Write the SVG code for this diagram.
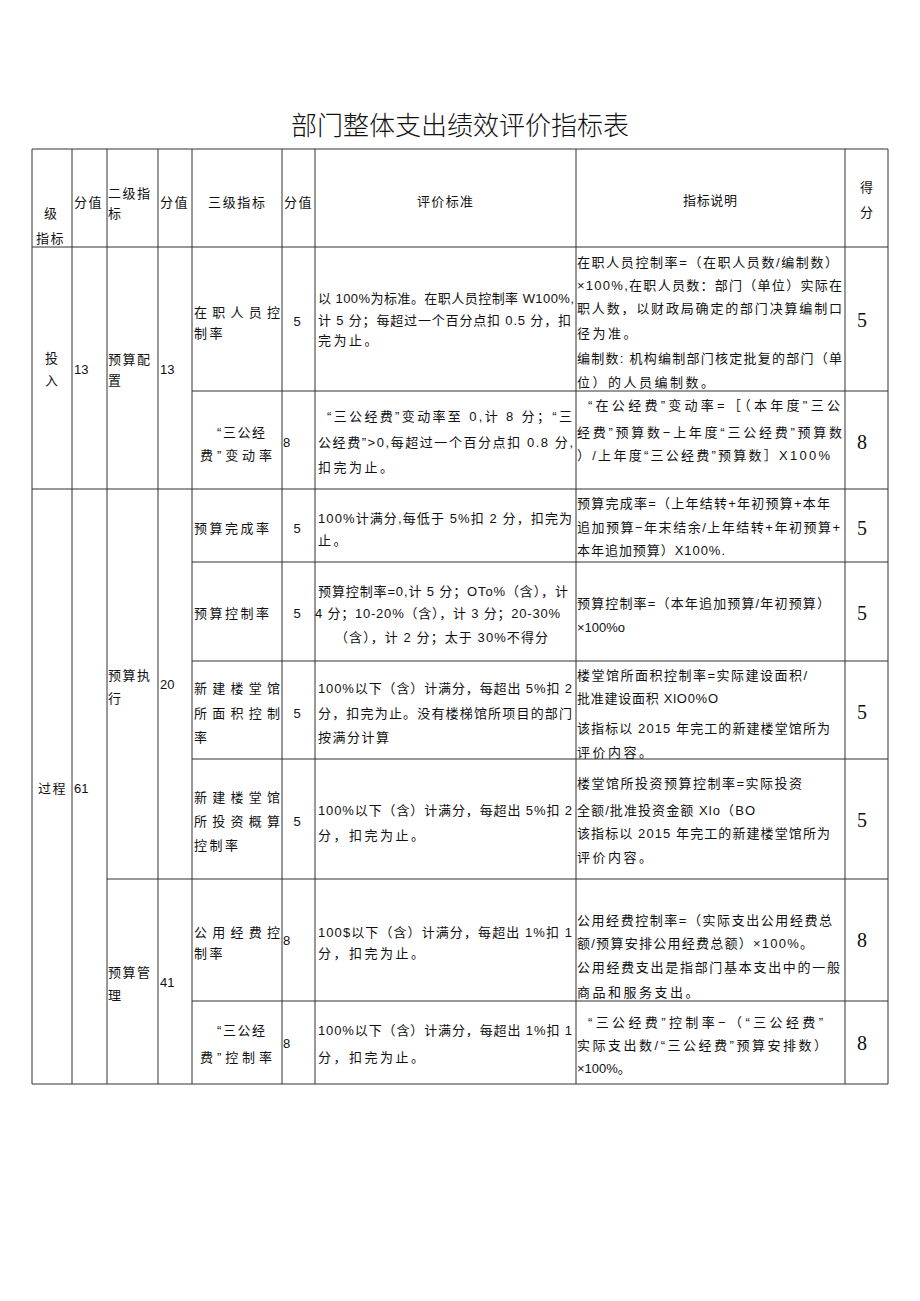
<svg xmlns="http://www.w3.org/2000/svg" width="920" height="1301" viewBox="0 0 920 1301">
<style>
text{font-family:"Liberation Sans","Noto Sans CJK SC",sans-serif;font-size:13px;fill:#111;}
.s{letter-spacing:2.5px;}
.h{letter-spacing:1.5px;}
.sc{font-family:"Liberation Serif","Noto Sans CJK SC",serif;font-size:20px;text-anchor:middle;}
.m{text-anchor:middle;}
.title{font-family:"Noto Sans CJK SC",sans-serif;font-size:26px;font-weight:300;text-anchor:middle;}
.g line{stroke:#333;stroke-width:1;}
</style>
<rect width="920" height="1301" fill="#fff"/>
<text class="title" x="460" y="135">部门整体支出绩效评价指标表</text>
<g id="grid" class="g">
<line x1="32" y1="149" x2="888" y2="149"/>
<line x1="32" y1="247" x2="888" y2="247"/>
<line x1="192" y1="391" x2="888" y2="391"/>
<line x1="32" y1="489" x2="888" y2="489"/>
<line x1="192" y1="562" x2="888" y2="562"/>
<line x1="192" y1="661" x2="888" y2="661"/>
<line x1="192" y1="759" x2="888" y2="759"/>
<line x1="107" y1="879" x2="888" y2="879"/>
<line x1="192" y1="1001" x2="888" y2="1001"/>
<line x1="32" y1="1084" x2="888" y2="1084"/>
<line x1="32" y1="149" x2="32" y2="1084"/>
<line x1="72" y1="149" x2="72" y2="1084"/>
<line x1="107" y1="149" x2="107" y2="1084"/>
<line x1="158" y1="149" x2="158" y2="1084"/>
<line x1="192" y1="149" x2="192" y2="1084"/>
<line x1="282" y1="149" x2="282" y2="1084"/>
<line x1="315" y1="149" x2="315" y2="1084"/>
<line x1="576" y1="149" x2="576" y2="1084"/>
<line x1="845" y1="149" x2="845" y2="1084"/>
<line x1="888" y1="149" x2="888" y2="1084"/>
</g>
<g id="header">
<text class="h" x="44" y="218">级</text>
<text class="h" x="36" y="243">指标</text>
<text class="h" x="74" y="207">分值</text>
<text class="h" x="108" y="198">二级指</text>
<text class="h" x="108" y="218">标</text>
<text class="h" x="160" y="207">分值</text>
<text x="208" y="207" textLength="57" lengthAdjust="spacing">三级指标</text>
<text class="h" x="284" y="207">分值</text>
<text x="417" y="206" textLength="56" lengthAdjust="spacing">评价标准</text>
<text x="683" y="205" textLength="54" lengthAdjust="spacing">指标说明</text>
<text x="860" y="192">得</text>
<text x="860" y="217">分</text>
</g>
<g id="cat-input">
<text x="45" y="363">投</text>
<text x="45" y="385">入</text>
<text x="74" y="374">13</text>
</g>
<g id="sub-budget-config">
<text class="h" x="108" y="364">预算配</text>
<text x="108" y="385">置</text>
<text x="160" y="374">13</text>
</g>
<g id="row-staff">
<text x="194" y="317" textLength="86" lengthAdjust="spacing">在职人员控</text>
<text class="s" x="194" y="338">制率</text>
<text class="m" x="297" y="326">5</text>
<text x="318" y="303" textLength="256" lengthAdjust="spacing">以 100%为标准。在职人员控制率 W100%,</text>
<text x="318" y="325" textLength="253" lengthAdjust="spacing">计 5 分；每超过一个百分点扣 0.5 分，扣</text>
<text class="s" x="318" y="345">完为止。</text>
<text x="577" y="267" textLength="261" lengthAdjust="spacing">在职人员控制率=（在职人员数/编制数）</text>
<text x="577" y="290" textLength="265" lengthAdjust="spacing">×100%,在职人员数：部门（单位）实际在</text>
<text x="577" y="313" textLength="265" lengthAdjust="spacing">职人数，以财政局确定的部门决算编制口</text>
<text class="s" x="577" y="338">径为准。</text>
<text x="577" y="363" textLength="265" lengthAdjust="spacing">编制数: 机构编制部门核定批复的部门（单</text>
<text class="s" x="577" y="387">位）的人员编制数。</text>
<text class="sc" x="862" y="327">5</text>
</g>
<g id="row-sangong-change">
<text x="217" y="437" textLength="48" lengthAdjust="spacing">“三公经</text>
<text x="200" y="460" textLength="72" lengthAdjust="spacing">费”变动率</text>
<text x="283" y="447">8</text>
<text x="327" y="421" textLength="245" lengthAdjust="spacing">“三公经费”变动率至 0,计 8 分；“三</text>
<text x="318" y="447" textLength="255" lengthAdjust="spacing">公经费”&gt;0,每超过一个百分点扣 0.8 分,</text>
<text class="s" x="318" y="472">扣完为止。</text>
<text x="588" y="410" textLength="252" lengthAdjust="spacing">“在公经费”变动率=［（本年度"三公</text>
<text x="577" y="437" textLength="265" lengthAdjust="spacing">经费”预算数−上年度“三公经费”预算数</text>
<text x="577" y="460" textLength="253" lengthAdjust="spacing">）/上年度“三公经费”预算数］X100%</text>
<text class="sc" x="862" y="449">8</text>
</g>
<g id="cat-process">
<text class="h" x="38" y="793">过程</text>
<text x="74" y="793">61</text>
</g>
<g id="sub-budget-exec">
<text class="h" x="108" y="680">预算执</text>
<text x="108" y="703">行</text>
<text x="160" y="689">20</text>
</g>
<g id="row-completion">
<text class="s" x="194" y="533">预算完成率</text>
<text class="m" x="297" y="533">5</text>
<text x="318" y="523" textLength="254" lengthAdjust="spacing">100%计满分,每低于 5%扣 2 分，扣完为</text>
<text class="s" x="318" y="545">止。</text>
<text x="577" y="508" textLength="253" lengthAdjust="spacing">预算完成率=（上年结转+年初预算+本年</text>
<text x="577" y="532" textLength="263" lengthAdjust="spacing">追加预算−年末结余/上年结转+年初预算+</text>
<text x="577" y="555" textLength="148" lengthAdjust="spacing">本年追加预算）X100%.</text>
<text class="sc" x="862" y="535">5</text>
</g>
<g id="row-control">
<text class="s" x="194" y="618">预算控制率</text>
<text class="m" x="297" y="618">5</text>
<text x="318" y="596" textLength="250" lengthAdjust="spacing">预算控制率=0,计 5 分；OTo%（含），计</text>
<text x="315" y="618" textLength="245" lengthAdjust="spacing">4 分；10-20%（含），计 3 分；20-30%</text>
<text x="335" y="642" textLength="213" lengthAdjust="spacing">（含），计 2 分；太于 30%不得分</text>
<text x="577" y="608" textLength="253" lengthAdjust="spacing">预算控制率=（本年追加预算/年初预算）</text>
<text x="577" y="632">×100%o</text>
<text class="sc" x="862" y="620">5</text>
</g>
<g id="row-area">
<text x="194" y="693" textLength="86" lengthAdjust="spacing">新建楼堂馆</text>
<text x="194" y="718" textLength="86" lengthAdjust="spacing">所面积控制</text>
<text x="194" y="742">率</text>
<text class="m" x="297" y="718">5</text>
<text x="318" y="693" textLength="254" lengthAdjust="spacing">100%以下（含）计满分，每超出 5%扣 2</text>
<text x="318" y="718" textLength="254" lengthAdjust="spacing">分，扣完为止。没有楼梯馆所项目的部门</text>
<text class="h" x="318" y="742">按满分计算</text>
<text x="577" y="680" textLength="230" lengthAdjust="spacing">楼堂馆所面积控制率=实际建设面积/</text>
<text x="577" y="703" textLength="141" lengthAdjust="spacing">批准建设面积 XlO0%O</text>
<text x="577" y="733" textLength="253" lengthAdjust="spacing">该指标以 2015 年完工的新建楼堂馆所为</text>
<text class="s" x="577" y="757">评价内容。</text>
<text class="sc" x="862" y="719">5</text>
</g>
<g id="row-invest">
<text x="194" y="802" textLength="86" lengthAdjust="spacing">新建楼堂馆</text>
<text x="194" y="826" textLength="86" lengthAdjust="spacing">所投资概算</text>
<text class="s" x="194" y="850">控制率</text>
<text class="m" x="297" y="826">5</text>
<text x="318" y="815" textLength="254" lengthAdjust="spacing">100%以下（含）计满分，每超出 5%扣 2</text>
<text class="s" x="318" y="840">分，扣完为止。</text>
<text x="577" y="788" textLength="225" lengthAdjust="spacing">楼堂馆所投资预算控制率=实际投资</text>
<text x="577" y="815" textLength="178" lengthAdjust="spacing">全额/批准投资金额 Xlo（BO</text>
<text x="577" y="838" textLength="253" lengthAdjust="spacing">该指标以 2015 年完工的新建楼堂馆所为</text>
<text class="s" x="577" y="862">评价内容。</text>
<text class="sc" x="862" y="827">5</text>
</g>
<g id="sub-budget-mgmt">
<text class="h" x="108" y="977">预算管</text>
<text x="108" y="1000">理</text>
<text x="160" y="987">41</text>
</g>
<g id="row-public">
<text x="194" y="937" textLength="86" lengthAdjust="spacing">公用经费控</text>
<text class="s" x="194" y="958">制率</text>
<text x="283" y="945">8</text>
<text x="318" y="937" textLength="254" lengthAdjust="spacing">100$以下（含）计满分，每超出 1%扣 1</text>
<text class="s" x="318" y="958">分，扣完为止。</text>
<text x="577" y="925" textLength="255" lengthAdjust="spacing">公用经费控制率=（实际支出公用经费总</text>
<text x="577" y="948" textLength="236" lengthAdjust="spacing">额/预算安排公用经费总额）×100%。</text>
<text x="577" y="972" textLength="263" lengthAdjust="spacing">公用经费支出是指部门基本支出中的一般</text>
<text class="s" x="577" y="997">商品和服务支出。</text>
<text class="sc" x="862" y="947">8</text>
</g>
<g id="row-sangong-control">
<text x="217" y="1035" textLength="48" lengthAdjust="spacing">“三公经</text>
<text x="200" y="1062" textLength="72" lengthAdjust="spacing">费”控制率</text>
<text x="283" y="1048">8</text>
<text x="318" y="1035" textLength="254" lengthAdjust="spacing">100%以下（含）计满分，每超出 1%扣 1</text>
<text class="s" x="318" y="1062">分，扣完为止。</text>
<text x="588" y="1027" textLength="235" lengthAdjust="spacing">“三公经费”控制率−（“三公经费”</text>
<text x="577" y="1050" textLength="250" lengthAdjust="spacing">实际支出数/“三公经费”预算安排数）</text>
<text x="577" y="1073">×100%。</text>
<text class="sc" x="862" y="1050">8</text>
</g>
</svg>
